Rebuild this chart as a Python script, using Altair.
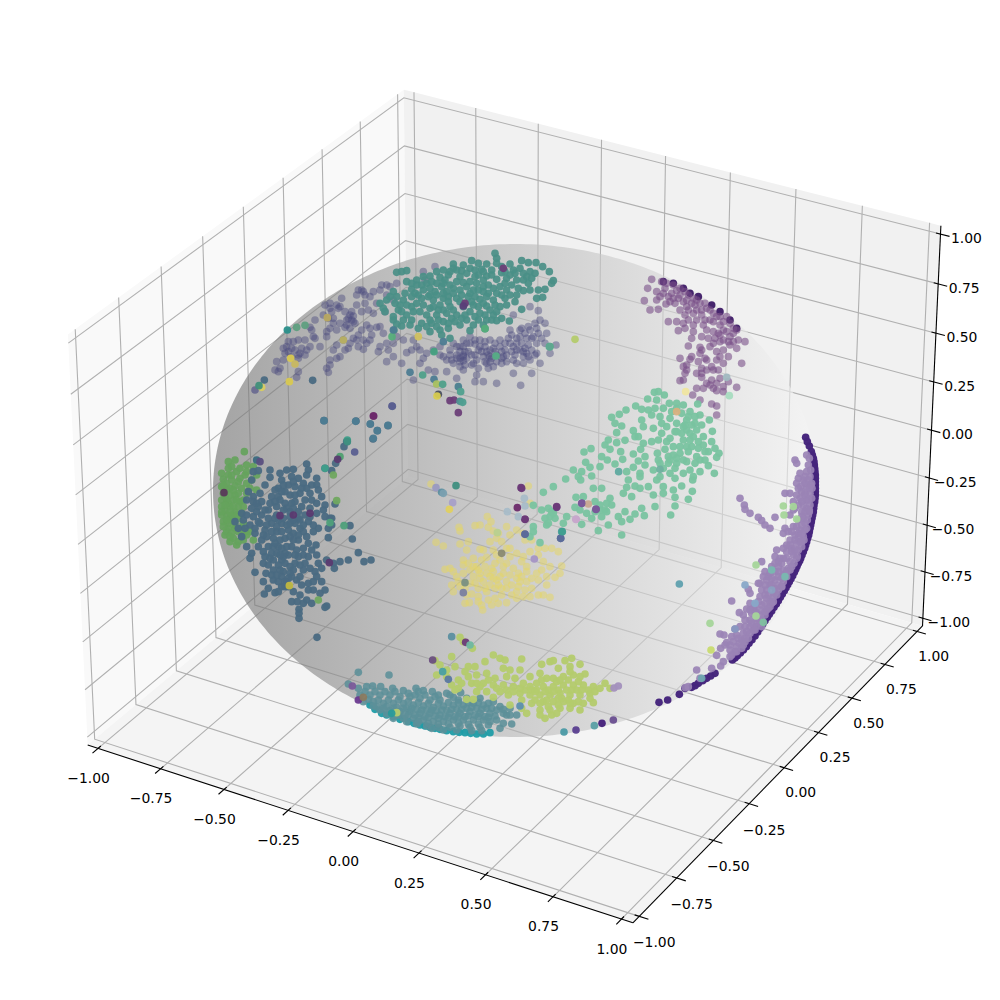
import numpy as np
import pandas as pd
import altair as alt

TICKS = [-1.0, -0.75, -0.5, -0.25, 0.0, 0.25, 0.5, 0.75, 1.0]
PANE = 1.0 + 1 / 24
TICK_OUT, TICK_IN = 0.0333, 0.0167
ELEV, AZIM = np.radians(30), np.radians(-60)

# Screen positions for three corners of the box
ANCHORS = [((-PANE, -PANE, -PANE), (87.7, 745.0)),
           ((PANE, PANE, PANE), (940.7, 225.7)),
           ((PANE, PANE, -PANE), (922.7, 626.0))]

VIOLET = [(135,390),(140,365),(165,340),(160,325),(175,305),(205,300),(230,330),(205,355),(250,290),(240,262),(255,240),(290,275),(310,250),(300,190),(325,205),(335,175),(365,215),(370,245),(345,262),(395,215),(400,155),(380,165),(430,155),(470,135),(500,130),(440,190),(465,215),(410,255),(440,262),(460,280),(380,300),(400,300),(370,295),(340,300),(320,315),(310,330),(300,360),(330,350),(290,385),(295,397),(355,325),(400,328),(445,335),(470,310),(490,350),(470,365),(515,370),(530,338),(570,330),(570,370),(550,420),(595,390),(615,395),(650,360),(680,320),(700,350),(720,310),(750,320),(780,330),(810,320),(840,310),(870,290),(900,270),(930,240),(925,212),(900,200),(850,225),(950,280),(935,295),(890,340),(900,360),(930,370),(860,370),(850,400),(905,400),(790,380),(800,430),(760,425),(735,425),(740,405),(680,415),(650,395),(700,390),(730,370),(760,350),(670,370),(640,350),(780,350),(820,350),(960,340),(978,315),(872,436),(550,300),(690,320),(705,335),(680,345),(710,355),(725,345),(745,330),(765,320),(790,325),(800,345),(825,330),(850,320),(875,310),(890,295),(860,295),(835,295),(810,300),(780,300),(750,300),(720,290),(700,300),(670,310),(690,365),(770,370),(800,365),(830,365),(880,350),(905,330),(920,310),(885,325),(855,345),(910,290),(945,250),(920,265),(875,265),(840,270),(610,330),(630,320),(660,330),(590,340),(560,320),(520,300),(500,290),(450,260),(420,265),(350,240),(360,225),(375,250),(295,235),(280,225),(320,195),(305,215),(385,150),(405,165),(395,150),(455,135),(480,140),(615,80),(580,95),(585,120),(215,325),(225,345),(185,350),(150,385),(205,395),(200,412),(245,270),(285,195),(690,335),(700,362),(735,312),(770,335),(815,335),(845,335),(870,330),(895,315),(860,310),(700,320),(660,345),(740,360),(780,365),(815,370),(880,370),(915,345),(945,310),(630,345),(580,355),(545,330),(490,310),(475,330),(450,320),(420,300),(360,310),(210,340),(195,330),(175,335),(160,360),(145,395),(205,345),(365,240),(370,228),(350,255),(300,205),(700,345),(690,355),(715,335),(735,345),(755,335),(775,345),(795,335),(830,345),(860,330),(880,335),(850,360),(815,355),(785,355),(765,365),(725,375),(705,375),(680,355),(665,360),(690,380),(745,385),(775,385),(895,350),(920,340),(905,295),(885,280),(925,280),(895,260),(915,250),(825,310),(795,310),(765,305),(735,300),(710,310),(870,270),(845,285),(270,320),(255,295),(225,300),(240,320),(190,305),(185,325),(170,320),(330,200),(310,235),(345,215),(355,235),(330,250),(300,265),(290,290),(320,270),(360,265),(385,285),(395,270),(425,285),(410,310),(385,320),(345,330),(320,355),(300,375),(450,150),(420,170),(405,190),(380,195),(430,220),(415,210),(470,165),(490,180)]
TEAL_TOP = [(795,40),(800,55),(670,72),(700,75),(725,62),(745,70),(770,72),(800,70),(840,72),(875,62),(895,68),(918,68),(938,80),(660,95),(695,92),(720,85),(755,88),(785,90),(815,98),(850,90),(870,85),(900,95),(958,95),(855,100),(600,108),(630,112),(655,105),(690,110),(735,110),(770,108),(800,118),(830,115),(890,110),(915,100),(880,120),(530,125),(560,120),(590,130),(620,130),(660,135),(700,128),(740,130),(775,135),(810,140),(845,135),(895,130),(965,130),(970,122),(490,155),(545,148),(580,150),(615,155),(650,155),(690,150),(730,150),(760,155),(800,160),(830,150),(860,165),(880,152),(925,150),(945,148),(920,175),(938,172),(500,170),(520,180),(545,170),(575,175),(610,180),(640,175),(680,175),(715,170),(750,178),(790,180),(825,175),(855,185),(450,190),(460,205),(505,210),(550,215),(580,195),(600,205),(630,195),(660,200),(700,200),(730,195),(770,198),(810,200),(875,208),(465,215),(490,230),(515,215),(590,225),(620,225),(650,220),(680,225),(720,215),(750,220),(790,225),(815,235),(490,240),(500,252),(545,240),(575,250),(605,250),(640,245),(675,245),(710,240),(745,240),(770,240),(800,242),(838,243),(492,270),(515,258),(600,275),(630,270),(655,265),(720,272),(765,266),(760,255),(635,285),(660,295),(500,97),(515,95),(530,92),(640,90),(710,100),(745,105),(785,105),(840,105),(605,125),(645,120),(680,125),(720,125),(760,120),(790,145),(825,130),(560,135),(600,145),(635,140),(670,145),(710,140),(745,150),(775,160),(815,165),(525,160),(565,165),(600,165),(655,170),(695,165),(735,170),(770,170),(610,200),(640,210),(670,210),(705,190),(745,200),(780,210),(570,215),(600,240),(665,235),(695,235),(735,230),(530,225),(545,200),(510,195),(480,170),(540,255),(620,260),(680,90),(760,95),(815,80),(880,100),(640,130),(575,135),(545,130),(620,165),(690,185),(725,185),(760,190),(795,195),(830,195),(840,165),(655,185),(625,210),(560,190),(530,195),(470,180),(495,190),(520,240),(565,265),(590,260),(625,240),(655,250),(690,255),(730,255),(785,240),(800,215),(765,225),(705,225),(760,140),(720,160),(670,160),(640,160),(595,170),(555,160),(860,120),(825,95),(865,145),(900,150),(905,115),(580,110),(620,95),(670,85),(735,90)]
SPRINKLE_TOP = [(172,270,"#2a8f8a"),(225,256,"#5f9f80"),(200,262,"#5f9f80"),(103,420,"#4a6a82"),(75,450,"#6a6a90"),(95,442,"#d8cc60"),(87,437,"#3f8f7a"),(178,425,"#d8c850"),(182,355,"#d8c850"),(195,372,"#c8b860"),(248,421,"#4a6a82"),(292,233,"#b8a860"),(340,300,"#b8b060"),(565,290,"#d0c060"),(540,397,"#4d7c92"),(612,418,"#4d7c92"),(620,432,"#a8c060"),(638,433,"#4fa08a"),(578,405,"#4fa08a"),(685,440,"#4a7f8f"),(692,455,"#4fa08e"),(625,463,"#4a5060"),(621,468,"#d8cc50"),(660,482,"#6b3f78"),(672,480,"#6b3f78"),(690,484,"#4f8f90"),(698,487,"#4f9f90"),(685,518,"#6b3f78"),(487,499,"#5c6690"),(431,528,"#6b2a6a"),(282,542,"#4d7c92"),(377,544,"#4d7c92"),(421,552,"#4d7c92"),(474,556,"#4d7c92"),(442,572,"#4d7c92"),(430,595,"#4d7c92"),(352,600,"#3f9f8a"),(820,85,"#6b3f78"),(705,190,"#6b3f78"),(700,198,"#5a3f78"),(960,320,"#55ad85"),(798,348,"#55ad85"),(612,335,"#45a080"),(765,266,"#55ad7a"),(486,290,"#55ad7a"),(490,270,"#4d7c92"),(640,305,"#4d7c92")]

RIM_PURPLE = [(430,65),(460,70),(490,85),(510,100),(535,110),(575,135),(600,155),(630,180),(650,205)]
PURPLE = [(395,58),(383,85),(373,122),(390,150),(415,148),(425,65),(440,70),(460,75),(480,85),(410,95),(430,100),(455,100),(480,105),(505,105),(520,115),(410,120),(438,132),(465,130),(490,125),(515,130),(540,130),(560,145),(580,160),(600,170),(445,185),(470,185),(495,165),(520,160),(545,165),(570,180),(600,195),(630,190),(650,210),(475,212),(495,205),(520,195),(550,195),(580,215),(610,210),(630,230),(655,240),(675,245),(515,235),(545,230),(505,258),(540,262),(580,250),(600,245),(630,255),(650,265),(480,295),(510,298),(535,305),(555,295),(590,275),(625,290),(665,310),(490,320),(500,330),(545,325),(575,320),(595,330),(610,310),(490,360),(545,352),(570,375),(600,355),(625,365),(650,382),(530,385),(550,385),(590,392),(610,395),(518,405),(575,432),(590,438),(590,465),(540,420),(480,362),(495,340),(560,300),(590,300),(610,270),(450,125),(500,140),(530,150),(555,180),(620,215),(565,235),(435,85),(470,92),(495,95),(420,110),(460,115),(525,135),(505,150),(480,150),(545,150),(580,185),(610,185),(640,205),(585,235),(625,245),(640,245),(600,225),(545,270),(580,330),(545,340),(575,360),(580,385),(445,110),(475,115),(500,120),(530,120),(555,130),(570,150),(590,170),(620,170),(505,180),(530,180),(560,210),(595,220),(640,220),(520,215),(490,190),(610,240),(570,260),(560,330),(530,340),(560,370),(590,370),(610,380),(500,315),(515,290),(540,280),(600,290)]
GREEN_MID = [(403,397),(415,395),(433,405),(383,417),(410,420),(448,430),(470,430),(490,435),(533,432),(318,450),(347,438),(365,448),(385,450),(405,445),(298,463),(275,472),(285,490),(305,498),(365,480),(395,465),(420,470),(450,475),(485,460),(510,455),(540,465),(568,480),(290,518),(340,512),(370,500),(400,505),(425,490),(470,490),(500,480),(525,490),(345,530),(355,530),(425,520),(465,515),(500,510),(530,510),(577,514),(265,540),(315,541),(290,548),(370,550),(395,545),(415,540),(450,535),(490,540),(520,530),(550,530),(575,545),(255,555),(213,566),(192,576),(270,568),(302,575),(362,568),(435,568),(460,560),(515,560),(550,555),(585,565),(597,580),(590,592),(340,582),(375,590),(412,580),(445,590),(480,580),(530,590),(565,575),(245,590),(262,600),(308,598),(355,603),(420,610),(450,600),(470,610),(500,605),(540,600),(197,607),(240,620),(285,612),(340,622),(375,615),(400,630),(430,625),(465,625),(510,630),(565,617),(160,630),(185,635),(210,622),(215,648),(175,650),(182,660),(320,635),(360,640),(420,650),(450,640),(490,640),(520,650),(540,635),(583,640),(137,657),(325,660),(360,650),(385,680),(410,660),(465,655),(485,678),(518,660),(70,697),(100,680),(220,685),(245,685),(320,682),(345,678),(360,685),(430,680),(460,690),(517,694),(310,700),(335,710),(400,705),(430,700),(465,712),(505,718),(168,712),(190,710),(225,725),(270,715),(405,740),(465,738),(40,736),(65,750),(85,745),(165,742),(180,750),(200,760),(240,735),(260,730),(275,735),(315,755),(365,745),(345,762),(373,767),(452,765),(140,770),(90,770),(105,775),(185,793),(215,775),(245,770),(295,770),(330,778),(305,785),(130,790),(265,795),(80,795),(40,800),(30,830),(60,848),(235,812),(305,825),(470,515),(490,500),(510,520),(460,585),(470,445),(505,470),(525,470),(440,500),(485,520),(535,545),(505,575),(470,595),(490,600),(445,610),(525,610),(555,600),(440,545),(415,600),(75,775),(95,755),(255,750),(225,755),(40,815),(430,445),(455,455),(495,495),(515,495),(545,495),(510,540),(535,565),(555,575),(500,560),(480,560),(260,755),(240,750),(85,790),(100,760)]
SPRINKLE_MID = [(165,238,"#b4cb6d"),(88,260,"#5fa890"),(628,407,"#a8dcc0"),(497,395,"#efe5a0"),(470,455,"#d8b080"),(186,730,"#6a4b8f"),(228,748,"#6f4f90"),(110,742,"#6a3f85"),(15,778,"#6b3a78"),(5,685,"#6b3a78"),(15,822,"#6a6a9a"),(122,835,"#5c6a9a"),(125,815,"#4f9fa0"),(168,778,"#b8a0c8"),(296,635,"#5faaa0"),(420,628,"#70b0a0"),(205,732,"#c8a890"),(620,352,"#a0b8c0")]

YELLOW = [(63,42),(78,217),(100,228),(147,172),(150,183),(195,167),(210,165),(232,140),(243,155),(235,172),(250,183),(290,170),(265,190),(240,215),(260,205),(275,215),(300,195),(320,180),(340,190),(360,100),(355,48),(345,210),(365,210),(290,235),(175,215),(150,222),(170,240),(210,238),(220,240),(160,270),(190,265),(230,262),(250,240),(270,270),(300,260),(320,250),(360,245),(385,235),(405,235),(425,235),(445,245),(385,255),(105,298),(120,295),(130,305),(160,285),(200,290),(245,295),(280,290),(310,295),(350,290),(400,275),(420,290),(455,288),(450,310),(435,322),(140,320),(160,310),(190,320),(210,310),(250,305),(280,310),(325,310),(350,305),(380,310),(410,320),(125,345),(130,365),(165,355),(195,340),(220,335),(260,330),(290,335),(320,325),(350,335),(385,330),(185,372),(230,365),(255,355),(290,355),(325,350),(345,360),(385,375),(400,375),(420,382),(165,400),(178,398),(215,405),(218,420),(235,390),(245,405),(265,400),(290,398),(320,385),(360,380),(340,380),(225,355),(205,300),(240,320),(270,320),(300,315),(330,335),(210,325),(175,280),(215,270),(255,280),(335,275),(145,335),(205,380),(320,365),(275,375),(180,300),(230,310),(265,345),(305,345),(335,320),(365,325),(395,300),(205,355),(240,345),(275,355),(180,340),(150,350),(170,375),(205,395),(255,385),(305,375),(365,355),(410,345),(190,290),(290,280),(340,260),(300,235),(260,255),(225,290),(250,325)]
SPRINKLE_YELLOW = [(138,47,"#3f8f7f"),(78,53,"#9a9ac0"),(95,67,"#5c8fa0"),(100,70,"#7aa0b0"),(128,98,"#a8a0c8"),(118,118,"#e0d060"),(333,53,"#6b3a78"),(343,85,"#a8bcc8"),(345,108,"#a8bcc8"),(322,113,"#6b2a6a"),(292,125,"#a8bcc8"),(325,140,"#a8bcc8"),(345,148,"#6b3a78"),(345,193,"#5a6a9a"),(452,205,"#5a6a9a"),(457,185,"#3f9f8f"),(515,100,"#7a5a9a"),(558,118,"#7a5a9a"),(440,110,"#6b3a78"),(498,148,"#c8a8cc"),(275,250,"#8a8a70"),(373,267,"#a595c5"),(165,338,"#7a9080"),(160,368,"#7a80a0"),(262,188,"#b8d090")]

GREEN_LEFT = [(103,155),(75,180),(55,185),(110,195),(130,200),(55,205),(35,220),(80,215),(105,225),(140,225),(40,238),(65,240),(85,245),(125,240),(60,265),(95,265),(140,270),(40,280),(75,285),(50,300),(35,300),(90,305),(60,320),(35,320),(75,335),(50,345),(95,340),(40,365),(70,365),(100,370),(55,385),(85,395),(120,395),(70,415),(100,420),(80,435),(45,405),(60,425),(130,420),(35,345),(60,355),(85,355),(45,330),(50,250),(75,258),(50,270),(70,300),(55,310),(85,320),(65,345),(55,370),(75,385),(95,410),(65,200),(90,205),(110,250),(35,260),(85,280),(110,280),(45,290),(35,335),(70,320),(50,395),(65,400),(105,395),(55,225),(40,255),(60,285),(80,300),(100,320),(45,315),(60,335),(80,345),(50,360),(75,375),(95,385),(40,380),(60,410),(85,425),(110,405),(65,225),(90,235),(110,215),(70,270),(120,265),(100,300)]
BLUE_LEFT = [(180,210),(210,220),(230,210),(250,208),(290,192),(295,210),(180,232),(165,255),(215,240),(245,230),(265,235),(290,225),(320,235),(130,215),(145,212),(125,240),(320,255),(205,265),(235,255),(255,260),(280,250),(305,255),(325,270),(115,275),(130,290),(150,280),(185,290),(205,290),(240,285),(270,280),(300,280),(335,290),(110,300),(130,305),(155,305),(180,310),(225,310),(255,305),(285,300),(320,310),(345,315),(375,312),(95,340),(125,325),(175,330),(230,325),(265,335),(300,325),(340,330),(75,365),(100,360),(130,350),(155,345),(200,345),(240,350),(285,345),(320,340),(360,355),(85,385),(120,375),(150,370),(185,370),(215,370),(255,370),(295,365),(325,385),(355,385),(365,375),(95,410),(135,400),(165,390),(200,395),(235,390),(280,395),(310,395),(110,440),(155,420),(190,415),(225,415),(265,420),(295,430),(318,435),(355,413),(125,460),(145,440),(175,440),(205,440),(245,440),(280,445),(305,450),(120,475),(165,470),(200,460),(235,465),(280,465),(320,465),(135,517),(160,490),(190,480),(225,490),(255,490),(285,490),(325,490),(350,480),(370,490),(168,520),(190,510),(220,515),(250,510),(280,510),(315,515),(335,505),(373,505),(390,485),(415,480),(160,545),(190,540),(215,530),(245,530),(295,550),(320,530),(335,545),(163,582),(195,578),(175,565),(215,560),(250,575),(270,585),(295,570),(345,570),(330,580),(245,605),(262,605),(290,600),(305,610),(350,618),(345,622),(267,628),(267,640),(267,655),(321,712),(342,62),(438,63),(481,72),(534,77),(502,92),(489,117),(410,125),(402,140),(377,190),(345,205),(365,212),(445,458),(462,485),(483,480),(427,417),(420,377),(365,355),(210,300),(240,335),(215,395),(185,395),(250,400),(230,440),(260,450),(215,480),(240,520),(210,510),(230,545),(270,530),(195,270),(225,275),(255,285),(290,265),(200,320),(245,310),(265,355),(175,355),(205,360),(240,370),(270,385),(170,410),(210,420),(250,420),(190,440),(225,460),(175,495),(205,495),(240,500),(265,470),(205,545),(225,560),(185,525),(220,255),(250,245),(275,265),(215,275),(195,305),(220,330),(250,325),(275,320),(305,300),(140,335),(110,345),(145,365),(170,375),(200,380),(230,375),(270,360),(300,350),(310,375),(345,350),(105,385),(135,385),(160,405),(195,430),(215,445),(240,410),(265,405),(290,410),(160,455),(185,460),(220,470),(255,465),(295,470),(180,475),(210,465),(270,495),(300,505),(200,525),(235,535),(260,540),(275,555),(310,545),(310,570),(205,575),(235,560),(280,610),(225,545),(195,355),(220,355),(250,360),(280,375),(145,320),(165,330),(140,310)]
SPRINKLE_LEFT = [(140,180,"#3a6a80"),(150,185,"#5a4f80"),(434,156,"#5a5f90"),(546,18,"#5a5f90"),(490,48,"#6b2a6a"),(412,125,"#3f8f80"),(390,170,"#4fa070"),(370,225,"#70a860"),(380,302,"#70a860"),(402,377,"#4fa07a"),(325,600,"#70a860"),(238,557,"#c0b840"),(358,488,"#5a3a70"),(383,178,"#5a3a70"),(42,278,"#5a3a5a"),(300,340,"#5a3a70"),(250,345,"#5a3a70"),(210,347,"#5a3a70"),(345,205,"#3f9f8a"),(360,368,"#4fa07a")]

RIM_TEAL = [(90,255),(125,280),(160,290),(205,305),(240,315),(270,322),(300,328),(340,335),(375,338),(410,342),(450,338),(105,268),(140,285),(180,298),(222,310),(255,318),(285,325),(320,332),(358,337),(392,340),(430,342)]
TEAL_LOW = [(25,192),(55,157),(147,165),(55,205),(80,200),(98,198),(122,200),(158,205),(190,212),(228,205),(235,215),(250,212),(277,215),(320,220),(362,218),(285,230),(60,225),(90,225),(120,225),(150,225),(180,230),(210,230),(240,235),(270,240),(300,240),(340,232),(380,235),(420,235),(460,245),(70,245),(100,245),(130,250),(160,250),(190,250),(220,255),(250,258),(280,262),(310,258),(340,255),(370,255),(400,250),(430,255),(480,260),(510,265),(120,270),(150,272),(180,275),(210,275),(240,280),(270,280),(300,285),(330,280),(360,280),(390,275),(420,280),(450,280),(490,280),(530,285),(160,295),(190,295),(220,295),(250,300),(280,305),(310,305),(340,300),(370,300),(400,300),(430,300),(470,300),(515,312),(230,312),(260,318),(295,322),(330,322),(360,318),(390,322),(420,322),(445,315),(480,325),(110,260),(140,260),(170,262),(200,265),(230,268),(260,270),(290,272),(320,270),(350,268),(380,265),(410,265),(440,265),(470,270),(500,285),(175,285),(205,285),(235,292),(265,292),(295,295),(325,292),(355,290),(385,288),(415,290),(445,292),(75,215),(105,215),(135,215),(165,215),(205,220),(225,225),(255,225),(295,225),(330,225),(355,240),(85,238),(115,240),(145,240),(175,240),(205,245),(235,248),(265,250),(295,250),(325,248),(355,248),(385,248),(415,248),(445,250),(100,258),(130,265),(160,265),(190,265),(215,265),(245,270),(275,270),(305,270),(335,268),(365,268),(395,262),(425,268),(455,265),(490,268),(140,282),(170,285),(195,285),(225,285),(255,290),(285,288),(315,290),(345,290),(375,290),(405,285),(435,290),(465,288),(510,285),(200,305),(235,305),(265,310),(295,312),(325,312),(355,310),(385,312),(415,312),(450,305),(490,310),(275,325),(310,330),(350,330),(395,332),(425,332)]
OLIVE = [(360,52),(370,65),(397,85),(335,110),(460,105),(285,122),(300,135),(320,150),(345,140),(385,140),(405,140),(435,125),(480,115),(495,120),(545,117),(605,133),(630,125),(640,122),(675,122),(695,115),(720,133),(490,145),(510,150),(540,150),(570,170),(600,160),(655,145),(690,140),(735,162),(290,165),(320,170),(355,180),(375,155),(410,165),(440,160),(465,175),(500,170),(525,175),(550,190),(590,190),(620,175),(640,175),(670,170),(700,165),(335,195),(355,205),(395,190),(430,190),(460,195),(490,195),(520,200),(570,200),(610,200),(640,200),(670,195),(700,195),(730,195),(760,200),(795,190),(810,205),(345,210),(410,215),(440,215),(480,215),(505,225),(540,220),(570,225),(600,225),(630,225),(660,220),(690,225),(720,225),(750,220),(380,238),(400,238),(460,232),(510,255),(545,240),(575,250),(610,245),(640,245),(670,245),(700,250),(730,250),(760,248),(545,265),(560,280),(600,270),(630,270),(660,265),(690,265),(720,270),(615,295),(650,280),(650,185),(685,180),(715,185),(745,210),(625,210),(655,210),(680,210),(710,210),(590,210),(555,210),(585,240),(625,260),(655,255),(685,240),(715,245),(445,180),(420,200),(615,215),(640,215),(665,235),(695,210),(725,210),(750,235),(620,240),(655,235),(690,250),(600,250),(575,210),(520,215),(470,205),(410,190),(385,170),(365,190),(540,205),(500,210),(605,180),(585,215),(660,180),(690,155),(720,170),(765,215),(780,205),(600,285),(635,285)]
SPRINKLE_LOW = [(335,50,"#5c8fa0"),(377,67,"#6b3a78"),(390,75,"#6fb8a0"),(278,120,"#6b4f80"),(308,155,"#4aa0a0"),(325,178,"#5a78a0"),(37,198,"#7a5a9a"),(55,240,"#6b3a90"),(70,232,"#8a7a60"),(170,278,"#b4cb6d"),(155,280,"#2a9a9a"),(822,204,"#a390bd"),(835,198,"#a390bd"),(820,300,"#6a4f90"),(786,310,"#44207a"),(763,317,"#5aa0a5"),(708,330,"#5a3f90"),(672,336,"#4a9aa5"),(540,258,"#5c8fb0")]

RIM_LILAC = [(467,22),(472,35),(478,48),(484,65),(487,75),(490,85),(492,95),(493,105),(494,115),(495,125),(496,135),(496,145),(496,155),(496,165),(496,175),(496,185),(496,195),(495,205),(494,215),(492,225),(491,235),(490,245),(488,255),(486,265),(484,275),(482,285),(480,295),(478,305),(476,315),(473,325),(470,335),(467,345),(464,355),(460,365),(456,375),(452,385),(449,392),(445,400),(441,409),(437,418),(433,427),(428,437),(423,446),(418,455),(413,464),(408,473),(403,482),(397,492),(391,502),(385,512),(379,522),(372,532),(365,543),(358,553),(352,562),(345,572),(338,583),(330,595),(323,606),(315,618),(306,629),(297,640),(289,650),(280,660),(271,669),(262,677),(255,684),(247,690),(195,730),(182,738),(170,745),(158,752),(145,760),(135,767),(125,772),(105,775),(88,793),(53,810),(27,817)]
LILAC = [(470,75),(435,90),(440,100),(475,105),(470,125),(445,145),(440,160),(460,150),(480,140),(470,170),(455,185),(480,190),(420,190),(440,195),(470,210),(430,215),(445,225),(470,235),(455,245),(420,255),(475,255),(445,270),(465,280),(430,290),(405,295),(400,310),(450,300),(435,315),(460,320),(410,345),(440,340),(380,360),(410,365),(445,360),(430,375),(375,380),(390,385),(335,395),(365,410),(395,400),(420,395),(345,425),(375,425),(400,435),(330,460),(350,450),(375,450),(400,455),(350,480),(375,475),(330,500),(350,505),(370,500),(385,480),(300,490),(295,478),(245,513),(300,520),(315,525),(335,525),(360,515),(290,537),(268,548),(280,555),(305,550),(330,555),(345,545),(300,570),(320,580),(335,590),(255,597),(210,612),(222,615),(260,615),(285,590),(300,610),(230,638),(250,635),(275,630),(295,625),(212,655),(200,676),(240,660),(260,650),(280,645),(220,695),(212,708),(185,715),(140,720),(270,205),(283,225),(285,238),(300,250),(325,262),(335,272),(345,285),(360,295),(375,262),(430,240),(325,460),(355,440),(405,190),(115,770),(106,773),(150,745),(485,160),(480,225),(460,265),(450,335),(425,355),(420,420),(385,440),(360,530),(320,565),(310,600),(280,610),(255,665),(482,120),(486,175),(485,205),(478,245),(472,270),(465,300),(462,330),(455,350),(442,378),(432,400),(415,415),(410,440),(395,470),(380,495),(365,520),(350,540),(335,570),(318,590),(300,590),(285,625),(268,640),(450,205),(450,130),(465,190),(420,330),(400,385),(385,410),(360,465),(345,495),(315,545),(240,680),(460,225),(440,290),(415,305),(478,85),(465,140),(475,150),(482,165),(465,160),(452,170),(478,175),(445,175),(465,195),(475,210),(455,215),(435,235),(465,245),(455,260),(478,240),(470,295),(455,285),(445,310),(425,305),(455,310),(445,325),(435,330),(420,345),(400,355),(425,365),(455,335),(435,360),(410,385),(385,395),(400,420),(425,410),(440,385),(375,400),(360,430),(385,425),(410,425),(340,440),(365,445),(395,445),(345,465),(365,465),(395,470),(385,465),(335,480),(355,495),(375,490),(325,515),(345,520),(370,515),(310,535),(330,540),(355,535),(300,540),(320,550),(345,555),(285,570),(305,580),(330,580),(270,590),(290,605),(315,600),(245,620),(265,625),(285,635),(240,645),(260,665),(275,655),(225,645),(245,675)]
SPRINKLE_RIGHT = [(88,462,"#5fa0ae"),(180,580,"#a5d59a"),(183,660,"#c8db70"),(318,405,"#a5d59a"),(400,228,"#a5d59a"),(430,230,"#a5d59a"),(402,255,"#a5d59a"),(440,267,"#a5d59a"),(405,440,"#79b8b0"),(365,420,"#79b8b0"),(285,465,"#88a8c8"),(315,520,"#88a8c8"),(255,597,"#8898c0"),(155,745,"#6fa5b0"),(318,558,"#a5d59a"),(340,577,"#80c0a0"),(365,480,"#8ca0c0")]

# Crop origins in the picture
ORIGIN_TOP, ORIGIN_MID, ORIGIN_LEFT = (230, 240), (520, 260), (210, 400)
ORIGIN_YEL, ORIGIN_LOW, ORIGIN_RIGHT = (410, 470), (340, 620), (650, 430)

# origin, colour, opacity, points
GROUPS = [
    (ORIGIN_LOW, "#1f9ca6", 0.95, RIM_TEAL),
    (ORIGIN_MID, "#3d1a66", 0.95, RIM_PURPLE),
    (ORIGIN_RIGHT, "#45257c", 0.98, RIM_LILAC),
    (ORIGIN_TOP, "#4b4b7e", 0.45, VIOLET),
    (ORIGIN_TOP, "#4a8f87", 0.92, TEAL_TOP),
    (ORIGIN_MID, "#7a5088", 0.6, PURPLE),
    (ORIGIN_YEL, "#e3d568", 0.55, YELLOW),
    (ORIGIN_RIGHT, "#9a83b5", 0.92, LILAC),
    (ORIGIN_LEFT, "#65a35c", 0.92, GREEN_LEFT),
    (ORIGIN_LOW, "#5c9098", 0.88, TEAL_LOW),
    (ORIGIN_LOW, "#b4cb6d", 0.95, OLIVE),
    (ORIGIN_MID, "#79c3a0", 0.95, GREEN_MID),
    (ORIGIN_LEFT, "#4a6a82", 0.95, BLUE_LEFT),
]
SPRINKLES = [(ORIGIN_TOP, SPRINKLE_TOP), (ORIGIN_MID, SPRINKLE_MID), (ORIGIN_LEFT, SPRINKLE_LEFT),
             (ORIGIN_YEL, SPRINKLE_YELLOW), (ORIGIN_LOW, SPRINKLE_LOW), (ORIGIN_RIGHT, SPRINKLE_RIGHT)]

# The same 3D camera that a default 3D axes has
box = np.array([4.0, 4.0, 3.0])
box = box * 1.8294640721620434 / np.linalg.norm(box)
R = box / 2
eye = R + 10 * np.array([np.cos(ELEV) * np.cos(AZIM), np.cos(ELEV) * np.sin(AZIM), np.sin(ELEV)])
w = (eye - R) / np.linalg.norm(eye - R)
u = np.cross([0, 0, 1.0], w); u = u / np.linalg.norm(u)
v = np.cross(w, u)

def raw(p):
    q = (np.asarray(p, float) + 1) / 2 * box - eye
    d = -np.dot(q, w)
    return np.dot(q, u) / d, np.dot(q, v) / d

ra = np.array([raw(a[0]) for a in ANCHORS])
pa = np.array([a[1] for a in ANCHORS])
sx_, cx_ = np.linalg.lstsq(np.c_[ra[:, 0], np.ones(3)], pa[:, 0], rcond=None)[0]
sy_, cy_ = np.linalg.lstsq(np.c_[ra[:, 1], np.ones(3)], pa[:, 1], rcond=None)[0]

def proj(x, y, z):
    a, b = raw((x, y, z))
    return sx_ * a + cx_, sy_ * b + cy_

# Panes as x / y / y2 tables
def pane_rows(corners):
    pts = [proj(*c) for c in corners]
    rows = []
    xs = sorted({round(p[0], 3) for p in pts})
    for xv in xs:
        hits = []
        for k in range(4):
            (x0, y0), (x1, y1) = pts[k], pts[(k + 1) % 4]
            lo, hi = min(x0, x1), max(x0, x1)
            if abs(x1 - x0) > 1e-6 and lo - 1e-2 <= xv <= hi + 1e-2:
                hits.append(y0 + (y1 - y0) * (xv - x0) / (x1 - x0))
        rows.append(dict(x=xv, y=min(hits), y2=max(hits)))
    return pd.DataFrame(rows)

P = PANE
PANES = [("#f9f9f9", [(-P, -P, -P), (-P, P, -P), (-P, P, P), (-P, -P, P)]),
         ("#f1f1f1", [(-P, P, -P), (P, P, -P), (P, P, P), (-P, P, P)]),
         ("#f4f4f4", [(-P, -P, -P), (P, -P, -P), (P, P, -P), (-P, P, -P)])]

# Grid, axis and tick polylines
lines = []
def add_line(color, width, pts):
    lid = len({r["lid"] for r in lines})
    for i, p in enumerate(pts):
        x, y = proj(*p)
        lines.append(dict(lid=lid, i=i, x=x, y=y, color=color, width=width))

GRID, BLACK = "#b0b0b0", "#000000"
for t in TICKS:
    add_line(GRID, 1.1, [(t, -P, -P), (t, P, -P), (t, P, P)])
    add_line(GRID, 1.1, [(P, t, -P), (-P, t, -P), (-P, t, P)])
    add_line(GRID, 1.1, [(-P, -P, t), (-P, P, t), (P, P, t)])
add_line(BLACK, 1.1, [(-P, -P, -P), (P, -P, -P)])
add_line(BLACK, 1.1, [(P, -P, -P), (P, P, -P)])
add_line(BLACK, 1.1, [(P, P, -P), (P, P, P)])
for t in TICKS:
    add_line(BLACK, 1.1, [(t, -P - TICK_OUT, -P), (t, -P + TICK_IN, -P)])
    add_line(BLACK, 1.1, [(P + TICK_OUT, t, -P), (P - TICK_IN, t, -P)])
    add_line(BLACK, 1.1, [(P - TICK_IN, P, t), (P + TICK_OUT, P, t)])
lines = pd.DataFrame(lines)

# Tick labels
def fmt(t):
    s = f"{abs(t):.2f}"
    return ("\u2212" + s) if t < 0 else s

labels = []
for t in TICKS:
    x, y = proj(t, -P, -P)
    labels.append(dict(x=x - 9.5, y=y + 30.5, text=fmt(t)))
    x, y = proj(P, t, -P)
    labels.append(dict(x=x + (15 if t < 0 else 16.5), y=y + (27 if t < 0 else 25.5), text=fmt(t)))
    x, y = proj(P, P, t)
    labels.append(dict(x=x + 26, y=y + 5, text=fmt(t)))
labels = pd.DataFrame(labels)

# Sphere outline
SPHERE_CX, SPHERE_CY, SPHERE_RX, SPHERE_RY = 515.5, 490.5, 302.5, 246.5
theta = np.linspace(0, np.pi, 181)
sphere = pd.DataFrame({
    "x": SPHERE_CX - SPHERE_RX * np.cos(theta),
    "y": SPHERE_CY - SPHERE_RY * np.sin(theta),
    "y2": SPHERE_CY + SPHERE_RY * np.sin(theta),
})

# Points
rows = []
for org, col, op, pts in GROUPS:
    for px, py in pts:
        rows.append(dict(x=org[0] + px / 3, y=org[1] + py / 3, color=col, op=op))
for org, pts in SPRINKLES:
    for px, py, col in pts:
        rows.append(dict(x=org[0] + px / 3, y=org[1] + py / 3, color=col, op=0.95))
points = pd.DataFrame(rows)

sx = alt.Scale(domain=[8, 992], range=[0, 984], nice=False, zero=False)
sy = alt.Scale(domain=[8, 992], range=[0, 984], nice=False, zero=False)
X = alt.X("x:Q", scale=sx, axis=None)
Y = alt.Y("y:Q", scale=sy, axis=None)
Y2 = alt.Y2("y2:Q")

pane_layers = [
    alt.Chart(pane_rows(corners)).mark_area(orient="vertical", color=col).encode(x=X, y=Y, y2=Y2)
    for col, corners in PANES
]
line_layer = alt.Chart(lines).mark_line().encode(
    x=X, y=Y, detail="lid:N", order="i:Q",
    color=alt.Color("color:N", scale=None, legend=None),
    strokeWidth=alt.StrokeWidth("width:Q", scale=None, legend=None))
sphere_layer = alt.Chart(sphere).mark_area(
    orient="vertical", opacity=0.62,
    color=alt.Gradient(gradient="linear", x1=0, x2=1, y1=0, y2=0, stops=[
        alt.GradientStop(offset=0, color="#707070"),
        alt.GradientStop(offset=0.5, color="#b6b6b6"),
        alt.GradientStop(offset=1, color="#f6f6f6")])
).encode(x=X, y=Y, y2=Y2)
point_layer = alt.Chart(points).mark_circle(size=58, stroke=None).encode(
    x=X, y=Y,
    color=alt.Color("color:N", scale=None, legend=None),
    opacity=alt.Opacity("op:Q", scale=None, legend=None))
text_layer = alt.Chart(labels).mark_text(font="DejaVu Sans", fontSize=13.9, color="#000000", align="center", baseline="middle").encode(
    x=X, y=Y, text="text:N")

chart = alt.layer(*pane_layers, line_layer, sphere_layer, point_layer, text_layer).properties(
    width=984, height=984, padding=0, autosize=alt.AutoSizeParams(type="none"),
    background="#ffffff"
).configure_view(stroke=None)

chart.save("out.html", embed_options={"renderer": "svg", "actions": False})
